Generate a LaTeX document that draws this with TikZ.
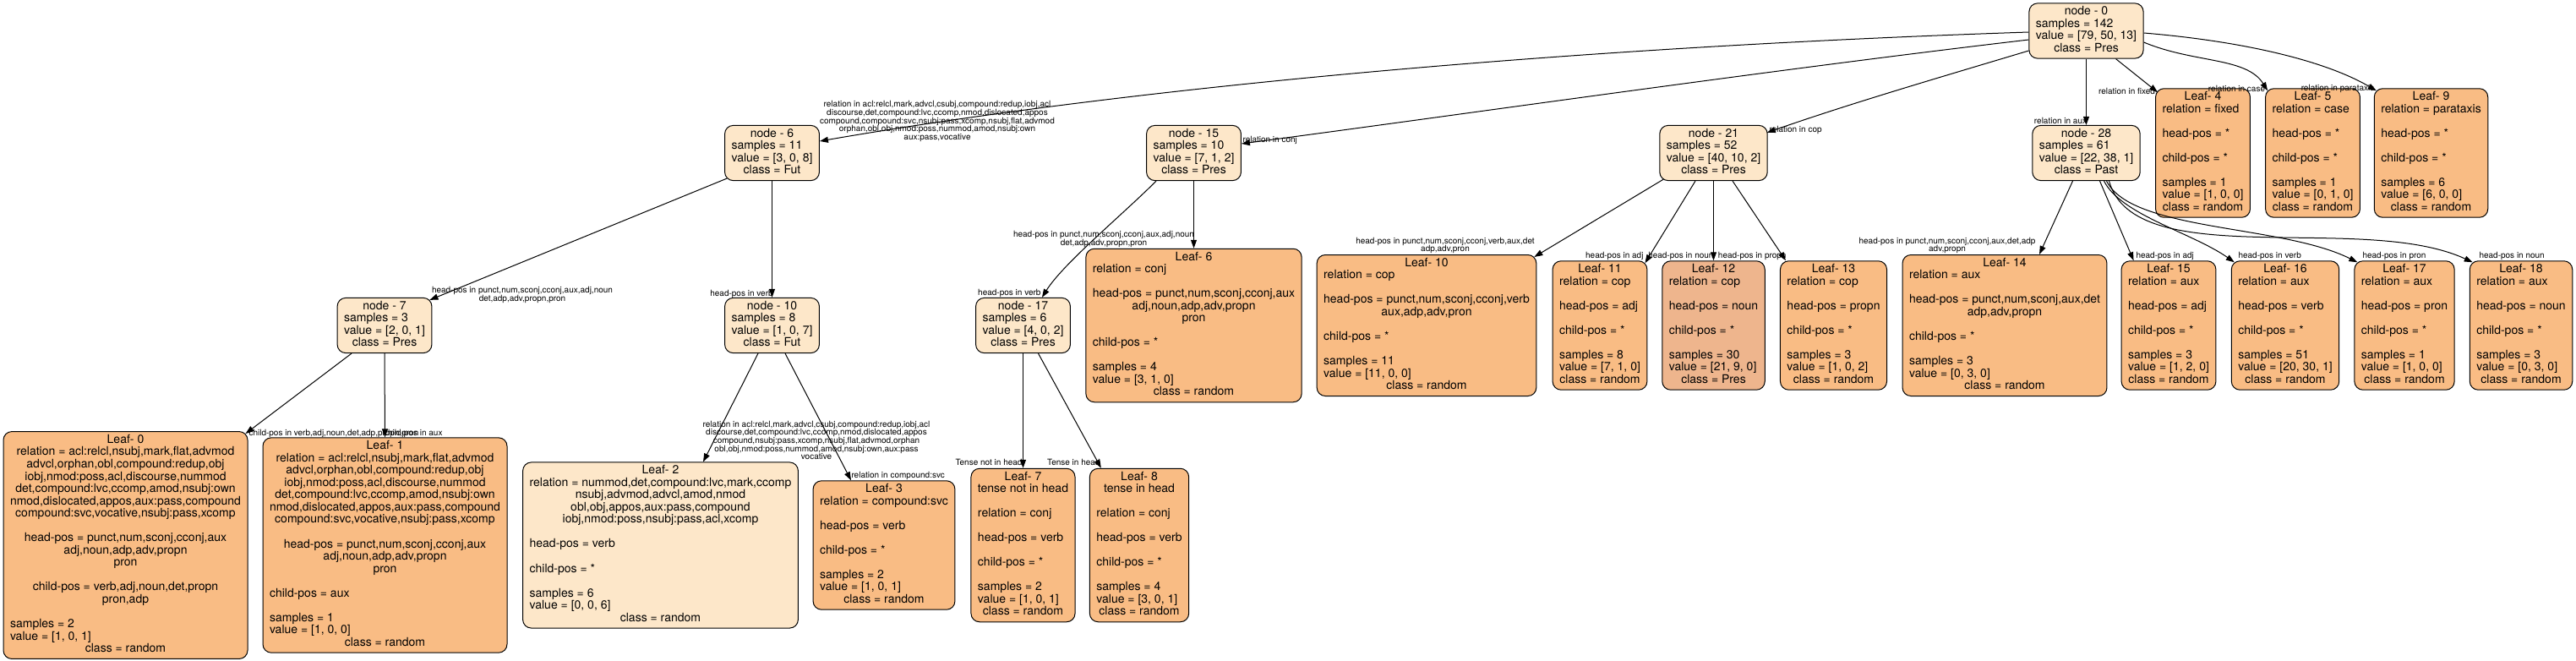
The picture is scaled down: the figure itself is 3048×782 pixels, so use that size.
\documentclass[tikz,border=0pt]{standalone}
\usepackage{fontspec}
\setmainfont{TeX Gyre Heros}
\usetikzlibrary{arrows.meta,calc}

\definecolor{splitfill}{RGB}{253,231,201}
\definecolor{leaffill}{RGB}{249,188,132}
\definecolor{presfill}{RGB}{238,181,141}

\newcommand{\ctrline}[1]{\multicolumn{1}{@{}c@{}}{#1}}
\newcommand{\nodelines}[1]{\begin{tabular}{@{}l@{}}#1\end{tabular}}

\tikzset{every picture/.style={line width=0.5pt}}
\tikzset{
  split/.style={draw, rounded corners=5pt, fill=splitfill, inner xsep=4pt, inner ysep=1.75pt, font=\fontsize{7}{7.25}\selectfont},
  leaf/.style={split, fill=leaffill},
  cond/.style={inner sep=0pt, align=center, font=\fontsize{5}{4.85}\selectfont},
  branch/.style={-{Triangle[length=5pt,width=3.5pt]}}
}

\begin{document}
\begin{tikzpicture}[x=0.5pt,y=0.5pt,yscale=-1,xscale=1]
\useasboundingbox (0,0) rectangle (3048,782);

% Split nodes
\node[split] (n0) at (2468.5,36.5) {\nodelines{\ctrline{node - 0}\\ samples = 142\\ value = [79, 50, 13]\\ \ctrline{class = Pres}}};
\node[split] (n6) at (913.5,181) {\nodelines{\ctrline{node - 6}\\ samples = 11\\ value = [3, 0, 8]\\ \ctrline{class = Fut}}};
\node[split] (n15) at (1412.5,181) {\nodelines{\ctrline{node - 15}\\ samples = 10\\ value = [7, 1, 2]\\ \ctrline{class = Pres}}};
\node[split] (n21) at (2027.5,181) {\nodelines{\ctrline{node - 21}\\ samples = 52\\ value = [40, 10, 2]\\ \ctrline{class = Pres}}};
\node[split] (n28) at (2468.5,181) {\nodelines{\ctrline{node - 28}\\ samples = 61\\ value = [22, 38, 1]\\ \ctrline{class = Past}}};
\node[split] (n7) at (455,385) {\nodelines{\ctrline{node - 7}\\ samples = 3\\ value = [2, 0, 1]\\ \ctrline{class = Pres}}};
\node[split] (n10) at (913.5,385) {\nodelines{\ctrline{node - 10}\\ samples = 8\\ value = [1, 0, 7]\\ \ctrline{class = Fut}}};
\node[split] (n17) at (1210.5,385) {\nodelines{\ctrline{node - 17}\\ samples = 6\\ value = [4, 0, 2]\\ \ctrline{class = Pres}}};

% Leaves, rank 1
\node[leaf] (l4) at (2606.5,181) {\nodelines{\ctrline{Leaf- 4}\\ relation = fixed\\ \\ head-pos = *\\ \\ child-pos = *\\ \\ samples = 1\\ value = [1, 0, 0]\\ \ctrline{class = random}}};
\node[leaf] (l5) at (2736.5,181) {\nodelines{\ctrline{Leaf- 5}\\ relation = case\\ \\ head-pos = *\\ \\ child-pos = *\\ \\ samples = 1\\ value = [0, 1, 0]\\ \ctrline{class = random}}};
\node[leaf] (l9) at (2876.5,181) {\nodelines{\ctrline{Leaf- 9}\\ relation = parataxis\\ \\ head-pos = *\\ \\ child-pos = *\\ \\ samples = 6\\ value = [6, 0, 0]\\ \ctrline{class = random}}};

% Leaves, rank 2
\node[leaf] (l6) at (1412.5,385) {\nodelines{\ctrline{Leaf- 6}\\ relation = conj\\ \\ head-pos = punct,num,sconj,cconj,aux\\ \ctrline{adj,noun,adp,adv,propn}\\ \ctrline{pron}\\ \\ child-pos = *\\ \\ samples = 4\\ value = [3, 1, 0]\\ \ctrline{class = random}}};
\node[leaf] (l10) at (1688,385) {\nodelines{\ctrline{Leaf- 10}\\ relation = cop\\ \\ head-pos = punct,num,sconj,cconj,verb\\ \ctrline{aux,adp,adv,pron}\\ \\ child-pos = *\\ \\ samples = 11\\ value = [11, 0, 0]\\ \ctrline{class = random}}};
\node[leaf] (l11) at (1893,385) {\nodelines{\ctrline{Leaf- 11}\\ relation = cop\\ \\ head-pos = adj\\ \\ child-pos = *\\ \\ samples = 8\\ value = [7, 1, 0]\\ \ctrline{class = random}}};
\node[leaf, fill=presfill] (l12) at (2027.5,385) {\nodelines{\ctrline{Leaf- 12}\\ relation = cop\\ \\ head-pos = noun\\ \\ child-pos = *\\ \\ samples = 30\\ value = [21, 9, 0]\\ \ctrline{class = Pres}}};
\node[leaf] (l13) at (2169.5,385) {\nodelines{\ctrline{Leaf- 13}\\ relation = cop\\ \\ head-pos = propn\\ \\ child-pos = *\\ \\ samples = 3\\ value = [1, 0, 2]\\ \ctrline{class = random}}};
\node[leaf] (l14) at (2372,385) {\nodelines{\ctrline{Leaf- 14}\\ relation = aux\\ \\ head-pos = punct,num,sconj,aux,det\\ \ctrline{adp,adv,propn}\\ \\ child-pos = *\\ \\ samples = 3\\ value = [0, 3, 0]\\ \ctrline{class = random}}};
\node[leaf] (l15) at (2566,385) {\nodelines{\ctrline{Leaf- 15}\\ relation = aux\\ \\ head-pos = adj\\ \\ child-pos = *\\ \\ samples = 3\\ value = [1, 2, 0]\\ \ctrline{class = random}}};
\node[leaf] (l16) at (2704,385) {\nodelines{\ctrline{Leaf- 16}\\ relation = aux\\ \\ head-pos = verb\\ \\ child-pos = *\\ \\ samples = 51\\ value = [20, 30, 1]\\ \ctrline{class = random}}};
\node[leaf] (l17) at (2845,385) {\nodelines{\ctrline{Leaf- 17}\\ relation = aux\\ \\ head-pos = pron\\ \\ child-pos = *\\ \\ samples = 1\\ value = [1, 0, 0]\\ \ctrline{class = random}}};
\node[leaf] (l18) at (2983,385) {\nodelines{\ctrline{Leaf- 18}\\ relation = aux\\ \\ head-pos = noun\\ \\ child-pos = *\\ \\ samples = 3\\ value = [0, 3, 0]\\ \ctrline{class = random}}};

% Leaves, rank 3
\node[leaf] (l0) at (148.5,645) {\nodelines{\ctrline{Leaf- 0}\\ \ctrline{relation = acl:relcl,nsubj,mark,flat,advmod}\\ \ctrline{advcl,orphan,obl,compound:redup,obj}\\ \ctrline{iobj,nmod:poss,acl,discourse,nummod}\\ \ctrline{det,compound:lvc,ccomp,amod,nsubj:own}\\ \ctrline{nmod,dislocated,appos,aux:pass,compound}\\ \ctrline{compound:svc,vocative,nsubj:pass,xcomp}\\ \\ \ctrline{head-pos = punct,num,sconj,cconj,aux}\\ \ctrline{adj,noun,adp,adv,propn}\\ \ctrline{pron}\\ \\ \ctrline{child-pos = verb,adj,noun,det,propn}\\ \ctrline{pron,adp}\\ \\ samples = 2\\ value = [1, 0, 1]\\ \ctrline{class = random}}};
\node[leaf] (l1) at (455.5,645) {\nodelines{\ctrline{Leaf- 1}\\ \ctrline{relation = acl:relcl,nsubj,mark,flat,advmod}\\ \ctrline{advcl,orphan,obl,compound:redup,obj}\\ \ctrline{iobj,nmod:poss,acl,discourse,nummod}\\ \ctrline{det,compound:lvc,ccomp,amod,nsubj:own}\\ \ctrline{nmod,dislocated,appos,aux:pass,compound}\\ \ctrline{compound:svc,vocative,nsubj:pass,xcomp}\\ \\ \ctrline{head-pos = punct,num,sconj,cconj,aux}\\ \ctrline{adj,noun,adp,adv,propn}\\ \ctrline{pron}\\ \\ child-pos = aux\\ \\ samples = 1\\ value = [1, 0, 0]\\ \ctrline{class = random}}};
\node[split] (l2) at (781.5,645) {\nodelines{\ctrline{Leaf- 2}\\ \ctrline{relation = nummod,det,compound:lvc,mark,ccomp}\\ \ctrline{nsubj,advmod,advcl,amod,nmod}\\ \ctrline{obl,obj,appos,aux:pass,compound}\\ \ctrline{iobj,nmod:poss,nsubj:pass,acl,xcomp}\\ \\ head-pos = verb\\ \\ child-pos = *\\ \\ samples = 6\\ value = [0, 0, 6]\\ \ctrline{class = random}}};
\node[leaf] (l3) at (1046,645) {\nodelines{\ctrline{Leaf- 3}\\ relation = compound:svc\\ \\ head-pos = verb\\ \\ child-pos = *\\ \\ samples = 2\\ value = [1, 0, 1]\\ \ctrline{class = random}}};
\node[leaf] (l7) at (1210.5,645) {\nodelines{\ctrline{Leaf- 7}\\ \ctrline{tense not in head}\\ \\ relation = conj\\ \\ head-pos = verb\\ \\ child-pos = *\\ \\ samples = 2\\ value = [1, 0, 1]\\ \ctrline{class = random}}};
\node[leaf] (l8) at (1348,645) {\nodelines{\ctrline{Leaf- 8}\\ \ctrline{tense in head}\\ \\ relation = conj\\ \\ head-pos = verb\\ \\ child-pos = *\\ \\ samples = 4\\ value = [3, 0, 1]\\ \ctrline{class = random}}};

% Connectors from node 0
\draw[branch] ($(n0.west)+(0,1.5)$) .. controls +(-600,20) and +(330,-57) .. ($(n6.east)+(0,-14)$);
\draw[branch] ($(n0.west)+(0,10.5)$) .. controls +(-300,35) and +(250,-33) .. ($(n15.east)+(0,-11)$);
\draw[branch] ($(n0.west)+(0,23.5)$) .. controls +(-100,30) and +(100,-35) .. ($(n21.north east)+(-1,9)$);
\draw[branch] (n0.south) -- (n28.north);
\draw[branch] ($(n0.south)+(35,0)$) -- ($(l4.north west)+(3,5)$);
\draw[branch] ($(n0.east)+(0,13.5)$) .. controls +(60,25) and +(-25,-40) .. ($(l5.north west)+(3,3)$);
\draw[branch] ($(n0.east)+(0,2.5)$) .. controls +(120,10) and +(-60,-35) .. ($(l9.north west)+(3,3)$);

% Connectors from node 6, 7, 10
\draw[branch] ($(n6.south west)+(3,-3)$) -- ($(n7.north east)+(-3,3)$);
\draw[branch] (n6.south) -- (n10.north);
\draw[branch] ($(n7.south)+(-39,0)$) -- ($(l0.north east)+(-3,3)$);
\draw[branch] (n7.south) -- (l1.north);
\draw[branch] ($(n10.south)+(-16.5,0)$) -- ($(l2.north)+(50.5,0)$);
\draw[branch] ($(n10.south)+(15.5,0)$) -- ($(l3.north)+(-39,0)$);

% Connectors from node 15, 17
\draw[branch] ($(n15.south west)+(12,0)$) .. controls +(-40,40) and +(25,-40) .. ($(n17.north east)+(-34,0)$);
\draw[branch] (n15.south) -- (l6.north);
\draw[branch] (n17.south) -- (l7.north);
\draw[branch] ($(n17.south)+(18,0)$) -- ($(l8.north west)+(14,0)$);

% Connectors from node 21
\draw[branch] ($(n21.south west)+(5,-2)$) -- ($(l10.north east)+(-3,3)$);
\draw[branch] ($(n21.south)+(-21.5,0)$) -- ($(l11.north east)+(-3,3)$);
\draw[branch] (n21.south) -- (l12.north);
\draw[branch] ($(n21.south)+(22.5,0)$) -- ($(l13.north west)+(7,0)$);

% Connectors from node 28
\draw[branch] ($(n28.south)+(-16,0)$) -- ($(l14.north)+(41,0)$);
\draw[branch] ($(n28.south)+(16,0)$) -- ($(l15.north west)+(15,0)$);
\draw[branch] ($(n28.south)+(21,0)$) .. controls +(20,40) and +(-50,-35) .. ($(l16.north west)+(4,2)$);
\draw[branch] ($(n28.south)+(24,0)$) .. controls +(30,60) and +(-90,-45) .. ($(l17.north west)+(4,2)$);
\draw[branch] ($(n28.south)+(27,0)$) .. controls +(30,110) and +(-130,-60) .. ($(l18.north west)+(4,2)$);

% Text Node
\node[cond] (c1) at (1109,143.5) {relation in acl:relcl,mark,advcl,csubj,compound:redup,iobj,acl\\discourse,det,compound:lvc,ccomp,nmod,dislocated,appos\\compound,compound:svc,nsubj:pass,xcomp,nsubj,flat,advmod\\orphan,obl,obj,nmod:poss,nummod,amod,nsubj:own\\aux:pass,vocative};
\node[cond, anchor=west] (c2) at (1470,166) {relation in conj};
\node[cond, anchor=west] (c3) at (2093,154) {relation in cop};
\node[cond] (c4) at (2438,143) {relation in aux};
\node[cond] (c5) at (2516.5,108) {relation in fixed};
\node[cond] (c6) at (2646.5,105) {relation in case};
\node[cond] (c7) at (2766,105) {relation in parataxis};
\node[cond] (c8) at (618,349) {head-pos in punct,num,sconj,cconj,aux,adj,noun\\det,adp,adv,propn,pron};
\node[cond] (c9) at (877.5,348) {head-pos in verb};
\node[cond, anchor=west] (c10) at (294,513) {child-pos in verb,adj,noun,det,adp,propn,pron};
\node[cond, anchor=east] (c11) at (524,513) {child-pos in aux};
\node[cond] (c12) at (966,521) {relation in acl:relcl,mark,advcl,csubj,compound:redup,iobj,acl\\discourse,det,compound:lvc,ccomp,nmod,dislocated,appos\\compound,nsubj:pass,xcomp,nsubj,flat,advmod,orphan\\obl,obj,nmod:poss,nummod,amod,nsubj:own,aux:pass\\vocative};
\node[cond, anchor=west] (c13) at (1007,563) {relation in compound:svc};
\node[cond, anchor=east] (c14) at (1232,347) {head-pos in verb};
\node[cond] (c15) at (1306,283) {head-pos in punct,num,sconj,cconj,aux,adj,noun\\det,adp,adv,propn,pron};
\node[cond, anchor=east] (c16) at (1210,547) {Tense not in head};
\node[cond, anchor=east] (c17) at (1302,547) {Tense in head};
\node[cond] (c18) at (1710,290.5) {head-pos in punct,num,sconj,cconj,verb,aux,det\\adp,adv,pron};
\node[cond, anchor=east] (c19) at (1945,303) {head-pos in adj};
\node[cond, anchor=east] (c20) at (2028,303) {head-pos in noun};
\node[cond, anchor=east] (c21) at (2114,303) {head-pos in propn};
\node[cond] (c22) at (2304,290.5) {head-pos in punct,num,sconj,cconj,aux,det,adp\\adv,propn};
\node[cond, anchor=west] (c23) at (2527,303) {head-pos in adj};
\node[cond, anchor=west] (c24) at (2648,303) {head-pos in verb};
\node[cond, anchor=west] (c25) at (2795,303) {head-pos in pron};
\node[cond, anchor=west] (c26) at (2933,303) {head-pos in noun};

\end{tikzpicture}
\end{document}
